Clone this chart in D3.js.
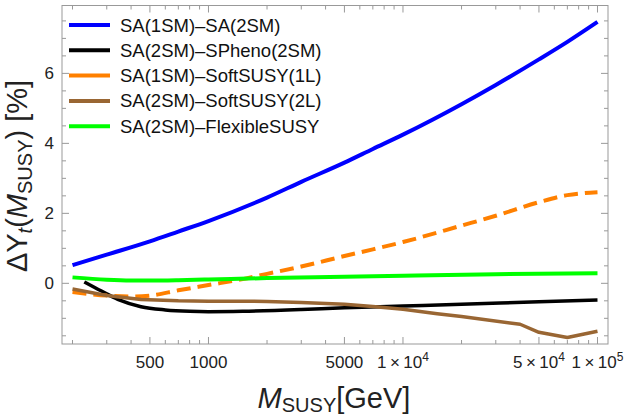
<!DOCTYPE html>
<html>
<head>
<meta charset="utf-8">
<script src="https://cdn.jsdelivr.net/npm/d3@7"></script>
<style>
  body { margin: 0; background: #fff; }
  text { font-family: "Liberation Sans", Arial, sans-serif; }
</style>
</head>
<body>
<svg id="chart" width="625" height="417"></svg>
<script>
// series values: [M_SUSY in GeV, dY_t in %]
const sa1sm_sa2sm = [[200,0.52],[300,0.82],[500,1.2],[700,1.48],[1000,1.78],[2000,2.45],[3000,2.9],[5000,3.45],[7000,3.84],[1e4,4.25],[2e4,5.12],[3e4,5.67],[5e4,6.4],[7e4,6.9],[1e5,7.47]];
const sa2sm_spheno = [[230,0.04],[260,-0.12],[300,-0.3],[350,-0.48],[450,-0.67],[600,-0.76],[800,-0.8],[1000,-0.81],[1500,-0.8],[3000,-0.75],[5000,-0.7],[1e4,-0.65],[2e4,-0.6],[5e4,-0.53],[1e5,-0.48]];
const sa1sm_softsusy = [[200,-0.25],[300,-0.35],[400,-0.38],[500,-0.35],[700,-0.2],[1000,-0.05],[1500,0.12],[2000,0.27],[3000,0.48],[5000,0.78],[7000,0.97],[1e4,1.18],[2e4,1.65],[3e4,1.93],[5e4,2.32],[7e4,2.52],[1e5,2.6]];
const sa2sm_softsusy = [[200,-0.16],[300,-0.35],[450,-0.46],[700,-0.5],[1000,-0.51],[1500,-0.51],[2000,-0.52],[3000,-0.55],[5000,-0.6],[7000,-0.66],[1e4,-0.74],[1.5e4,-0.87],[2e4,-0.95],[4e4,-1.17],[5e4,-1.4],[7e4,-1.55],[1e5,-1.37]];
const sa2sm_flexible = [[200,0.17],[300,0.1],[400,0.08],[500,0.08],[700,0.09],[1000,0.11],[2000,0.15],[5000,0.19],[1e4,0.22],[3e4,0.26],[1e5,0.29]];

const legendNames = ["SA(1SM)\u2013SA(2SM)", "SA(2SM)\u2013SPheno(2SM)", "SA(1SM)\u2013SoftSUSY(1L)", "SA(2SM)\u2013SoftSUSY(2L)", "SA(2SM)\u2013FlexibleSUSY"];
const yMajor = [0, 2, 4, 6];
const xMajor = [500, 1000, 5000, 1e4, 5e4, 1e5];
const xTickLabels = [["500"], ["1000"], ["5000"], ["1", "4"], ["5", "4"], ["1", "5"]];

const series = [
  {data: sa1sm_sa2sm,    color: "#0000ff", width: 4,   dash: null,   curve: d3.curveMonotoneX},
  {data: sa2sm_spheno,   color: "#000000", width: 3.5, dash: null,   curve: d3.curveMonotoneX},
  {data: sa1sm_softsusy, color: "#ff8000", width: 4,   dash: "14,7", curve: d3.curveMonotoneX},
  {data: sa2sm_softsusy, color: "#996633", width: 3.5, dash: null,   curve: d3.curveLinear},
  {data: sa2sm_flexible, color: "#00ff00", width: 4,   dash: null,   curve: d3.curveMonotoneX}
];

const svg = d3.select("#chart");
const pLeft = 62, pRight = 608, pTop = 5.5, pBottom = 344;

const x = d3.scaleLog().domain([Math.pow(10, 2.247), Math.pow(10, 5.054)]).range([pLeft, pRight]);
const y = d3.scaleLinear().domain([-1.734, 7.94]).range([pBottom, pTop]);

const gridGray = "#999";

// minor ticks
let xMinor = [];
[100, 1000, 10000].forEach(dec => {
  for (let k = 2; k <= 9; k++) xMinor.push(k * dec);
});
xMinor = xMinor.filter(v => v >= x.domain()[0] && v <= x.domain()[1] && xMajor.indexOf(v) < 0);
const yMinor = d3.range(-1.5, 7.6, 0.5).filter(v => yMajor.indexOf(v) < 0);

const ticks = svg.append("g").attr("stroke", gridGray).attr("stroke-width", 1);
function xTick(v, len) {
  ticks.append("line").attr("x1", x(v)).attr("x2", x(v)).attr("y1", pBottom).attr("y2", pBottom - len);
  ticks.append("line").attr("x1", x(v)).attr("x2", x(v)).attr("y1", pTop).attr("y2", pTop + len);
}
function yTick(v, len) {
  ticks.append("line").attr("x1", pLeft).attr("x2", pLeft + len).attr("y1", y(v)).attr("y2", y(v));
  ticks.append("line").attr("x1", pRight).attr("x2", pRight - len).attr("y1", y(v)).attr("y2", y(v));
}
xMinor.forEach(v => xTick(v, 4));
xMajor.forEach(v => xTick(v, 7));
yMinor.forEach(v => yTick(v, 4));
yMajor.forEach(v => yTick(v, 7));

// frame
svg.append("rect")
  .attr("x", pLeft).attr("y", pTop)
  .attr("width", pRight - pLeft).attr("height", pBottom - pTop)
  .attr("fill", "none").attr("stroke", gridGray).attr("stroke-width", 1);

// tick labels
svg.append("g").selectAll("text")
  .data(yMajor)
  .enter().append("text")
    .attr("x", pLeft - 8)
    .attr("y", d => y(d) + 6)
    .attr("text-anchor", "end")
    .attr("font-size", 17)
    .attr("fill", "#222")
    .text(d => d);

xMajor.forEach((v, i) => {
  const lab = xTickLabels[i];
  const t = svg.append("text")
    .attr("x", x(v))
    .attr("y", 368)
    .attr("text-anchor", "middle")
    .attr("font-size", 17)
    .attr("fill", "#222");
  if (lab.length === 1) {
    t.text(lab[0]);
  } else {
    t.append("tspan").text(lab[0] + "\u2009\u00d7\u200910");
    t.append("tspan").attr("dy", -7).attr("font-size", 12).text(lab[1]);
  }
});

// curves
const plot = svg.append("g");
series.forEach(s => {
  const line = d3.line()
    .x(d => x(d[0]))
    .y(d => y(d[1]))
    .curve(s.curve);
  plot.append("path")
    .datum(s.data)
    .attr("fill", "none")
    .attr("stroke", s.color)
    .attr("stroke-width", s.width)
    .attr("stroke-dasharray", s.dash)
    .attr("stroke-linejoin", "round")
    .attr("d", line);
});

// legend
const legend = svg.append("g");
series.forEach((s, i) => {
  const ly = 25 + i * 25.3;
  legend.append("line")
    .attr("x1", 69).attr("x2", 110)
    .attr("y1", ly).attr("y2", ly)
    .attr("stroke", s.color).attr("stroke-width", 4);
  legend.append("text")
    .attr("x", 120).attr("y", ly + 6.5)
    .attr("font-size", 18.5)
    .attr("fill", "#111")
    .text(legendNames[i]);
});

// axis labels
const xl = svg.append("text")
  .attr("x", 334).attr("y", 408)
  .attr("text-anchor", "middle")
  .attr("font-size", 29)
  .attr("fill", "#222");
xl.append("tspan").attr("font-style", "italic").text("M");
xl.append("tspan").attr("font-size", 20).attr("dy", 4).text("SUSY");
xl.append("tspan").attr("dy", -4).text("[GeV]");

const yl = svg.append("text")
  .attr("transform", "translate(27,176) rotate(-90)")
  .attr("text-anchor", "middle")
  .attr("font-size", 29)
  .attr("fill", "#222");
yl.append("tspan").text("\u0394Y");
yl.append("tspan").attr("font-size", 20).attr("font-style", "italic").attr("dy", 5).text("t");
yl.append("tspan").attr("dy", -5).text("(");
yl.append("tspan").attr("font-style", "italic").text("M");
yl.append("tspan").attr("font-size", 20).attr("dy", 5).text("SUSY");
yl.append("tspan").attr("dy", -5).text(") [%]");
</script>
</body>
</html>
